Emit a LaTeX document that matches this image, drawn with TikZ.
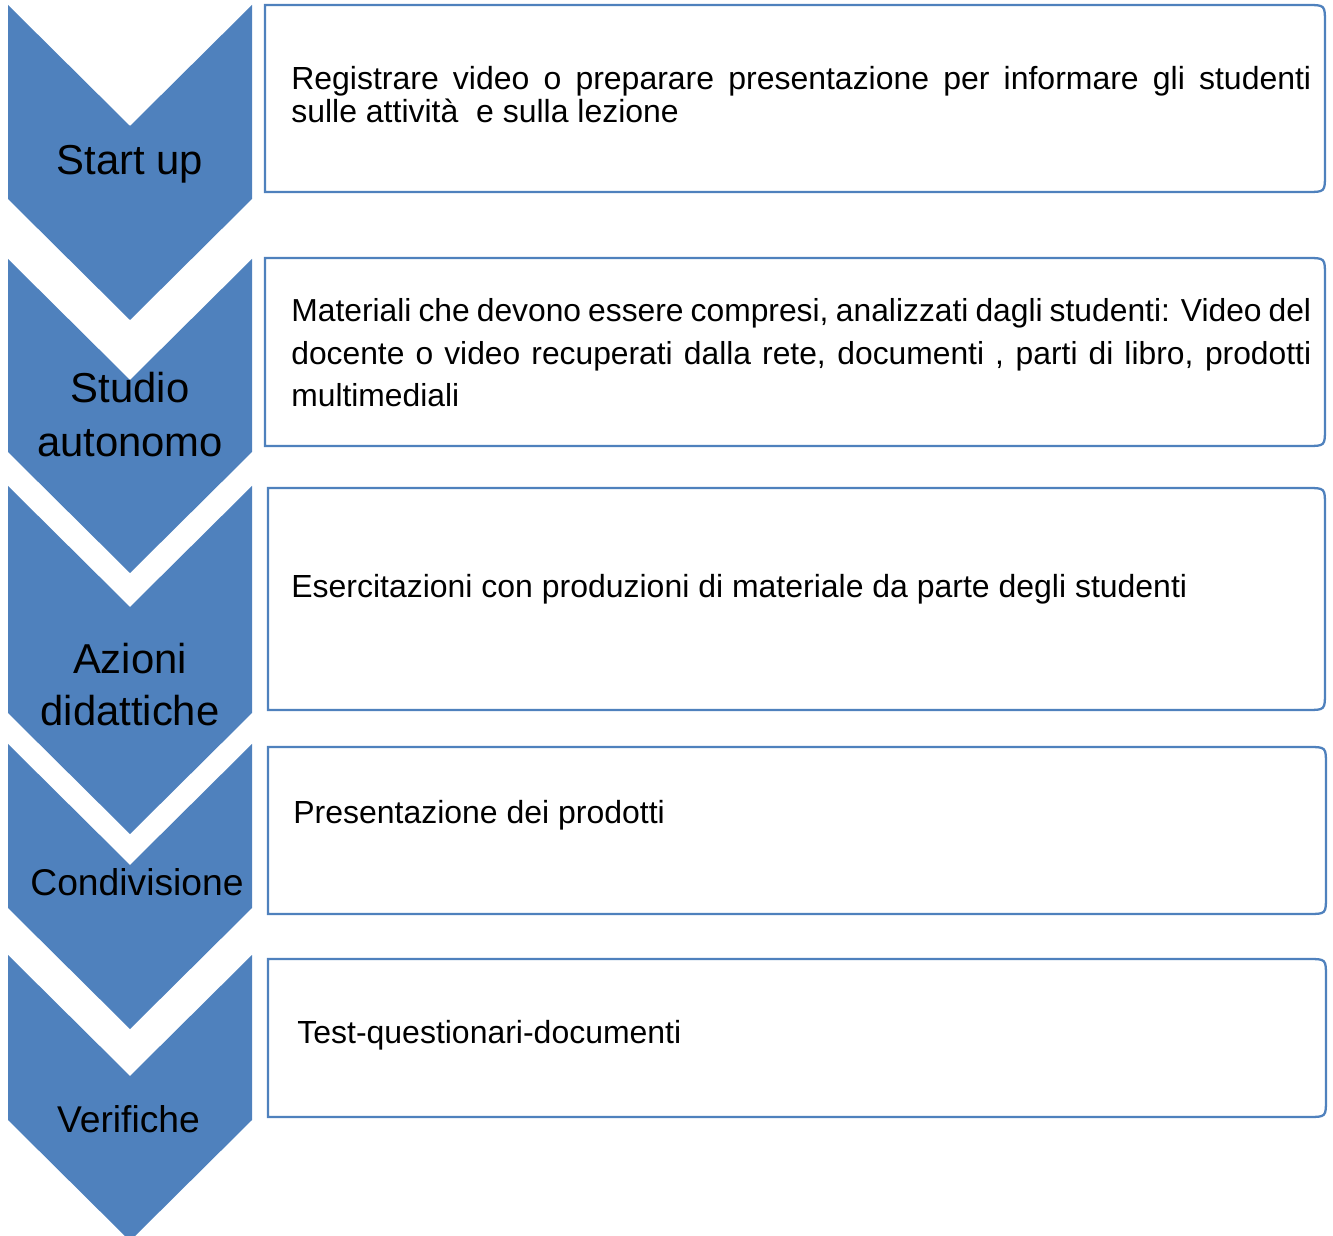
\documentclass[tikz,border=0pt]{standalone}
\usepackage{fontspec}
\setmainfont{Liberation Sans}
\definecolor{stepblue}{HTML}{4F81BD}

\begin{document}
\begin{tikzpicture}[x=0.02cm,y=-0.02cm]
\tikzset{
    chevron/.style={
           fill=stepblue,
           draw=none},
    stepbox/.style={
           draw=stepblue,
           line width=1.3pt,
           fill=white},
    % labels inside the chevrons, anchored on the last line
    steplabel/.style={
           anchor=base,
           align=center,
           inner sep=0pt,
           font=\fontsize{23.8pt}{31pt}\selectfont},
    smalllabel/.style={
           steplabel,
           font=\fontsize{21.2pt}{26pt}\selectfont},
    % texts inside the boxes
    boxtext/.style={
           anchor=base west,
           inner sep=0pt,
           font=\fontsize{18.2pt}{21pt}\selectfont},
    longtext/.style={
           boxtext,
           text width=580.5pt,
           align=justify}
}
\useasboundingbox (0,0) rectangle (1333,1236);

% chevrons
\fill[chevron] (8,5) -- (130,126) -- (252,5) -- (252,199) -- (130,320) -- (8,199) -- cycle;
\fill[chevron] (8,259) -- (130,380) -- (252,259) -- (252,452) -- (130,573) -- (8,452) -- cycle;
\fill[chevron] (8,486) -- (130,607) -- (252,486) -- (252,713) -- (130,834) -- (8,713) -- cycle;
\fill[chevron] (8,744) -- (130,865) -- (252,744) -- (252,908) -- (130,1029) -- (8,908) -- cycle;
\fill[chevron] (8,955) -- (130,1076) -- (252,955) -- (252,1120) -- (130,1241) -- (8,1120) -- cycle;

% boxes
\draw[stepbox] (265,5) -- (1307,5) .. controls (1325,5) .. (1325,23) -- (1325,174) .. controls (1325,192) .. (1307,192) -- (265,192) -- cycle;
\draw[stepbox] (265,258) -- (1307,258) .. controls (1325,258) .. (1325,276) -- (1325,428) .. controls (1325,446) .. (1307,446) -- (265,446) -- cycle;
\draw[stepbox] (268,488) -- (1307,488) .. controls (1325,488) .. (1325,506) -- (1325,692) .. controls (1325,710) .. (1307,710) -- (268,710) -- cycle;
\draw[stepbox] (268,747) -- (1308,747) .. controls (1326,747) .. (1326,765) -- (1326,896) .. controls (1326,914) .. (1308,914) -- (268,914) -- cycle;
\draw[stepbox] (268,959) -- (1308,959) .. controls (1326,959) .. (1326,977) -- (1326,1099) .. controls (1326,1117) .. (1308,1117) -- (268,1117) -- cycle;

\node[steplabel] (startup) at (130,175) {Start up};
\node[steplabel] (studio) at (130,457) {Studio\\autonomo};
\node[steplabel,font=\fontsize{23.8pt}{30pt}\selectfont] (azioni) at (130,726) {Azioni\\didattiche};
\node[smalllabel] (condivisione) at (137,895) {Condivisione};
\node[smalllabel] (verifiche) at (128.5,1132) {Verifiche};

\node[longtext,font=\fontsize{18.2pt}{18.7pt}\selectfont] (txtstartup) at (291,90)
  {Registrare video o preparare presentazione per informare gli studenti\linebreak sulle attività \ e sulla lezione};
\node[longtext,font=\fontsize{18.1pt}{24pt}\selectfont] (txtstudio) at (291,322)
  {Materiali che devono essere compresi, analizzati dagli studenti: Video del\linebreak docente o video recuperati dalla rete, documenti , parti di libro, prodotti\linebreak multimediali};
\node[boxtext] (txtazioni) at (291,598) {Esercitazioni con produzioni di materiale da parte degli studenti};
\node[boxtext] (txtcondivisione) at (293,824) {Presentazione dei prodotti};
\node[boxtext] (txtverifiche) at (297,1043) {Test-questionari-documenti};
\end{tikzpicture}
\end{document}
